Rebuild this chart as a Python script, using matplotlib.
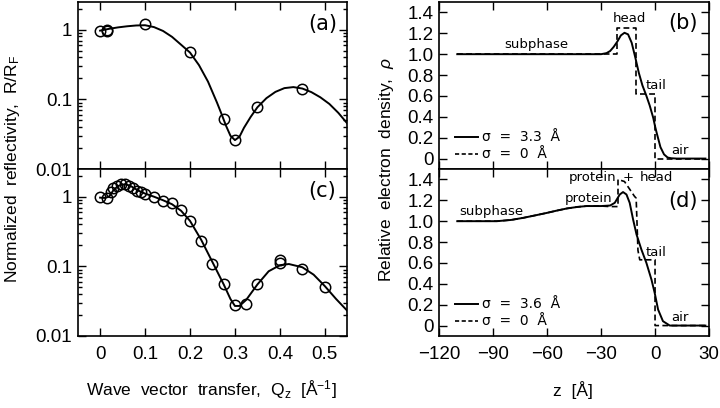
import numpy as np
import matplotlib
matplotlib.use("Agg")
from matplotlib import pyplot as plt
from matplotlib.ticker import FixedLocator, FixedFormatter, LogLocator, NullFormatter

# ---- reflectivity data, panel (a) ----
qa_pts = [0.0, 0.016, 0.016, 0.1, 0.2, 0.275, 0.30, 0.35, 0.45]
ra_pts = [0.95, 0.96, 1.0, 1.21, 0.474, 0.052, 0.026, 0.077, 0.142]
qa_fit = [0.0, 0.02, 0.04, 0.06, 0.08, 0.10, 0.12, 0.14, 0.16, 0.18, 0.20, 0.22,
          0.24, 0.26, 0.27, 0.28, 0.29, 0.30, 0.31, 0.32, 0.335, 0.35, 0.37,
          0.39, 0.41, 0.43, 0.45, 0.47, 0.49, 0.51, 0.53, 0.55]
ra_fit = [0.97, 1.03, 1.08, 1.12, 1.15, 1.16, 1.09, 0.96, 0.79, 0.61, 0.47, 0.31,
          0.18, 0.09, 0.062, 0.042, 0.030, 0.026, 0.029, 0.039, 0.056, 0.077, 0.104,
          0.128, 0.145, 0.150, 0.143, 0.127, 0.107, 0.086, 0.064, 0.045]

# ---- reflectivity data, panel (c) ----
qc_pts = [0.0, 0.016, 0.025, 0.028, 0.037, 0.047, 0.056, 0.065, 0.074, 0.083,
          0.091, 0.10, 0.12, 0.14, 0.16, 0.18, 0.20, 0.225, 0.25, 0.275, 0.30,
          0.325, 0.35, 0.40, 0.40, 0.45, 0.50]
rc_pts = [0.98, 0.95, 1.15, 1.32, 1.44, 1.52, 1.52, 1.41, 1.32, 1.2,
          1.15, 1.10, 1.0, 0.88, 0.80, 0.65, 0.45, 0.228, 0.109, 0.055, 0.0277,
          0.029, 0.055, 0.123, 0.113, 0.091, 0.051]
qc_fit = [0.0, 0.01, 0.02, 0.03, 0.04, 0.05, 0.06, 0.07, 0.08, 0.09, 0.10, 0.12,
          0.14, 0.16, 0.18, 0.20, 0.225, 0.25, 0.275, 0.29, 0.30, 0.31, 0.325,
          0.35, 0.375, 0.40, 0.42, 0.45, 0.475, 0.50, 0.525, 0.55]
rc_fit = [0.97, 0.96, 1.0, 1.25, 1.42, 1.50, 1.49, 1.40, 1.28, 1.18, 1.11, 1.0,
          0.89, 0.78, 0.63, 0.45, 0.24, 0.115, 0.055, 0.034, 0.027, 0.027, 0.033,
          0.055, 0.085, 0.104, 0.108, 0.097, 0.076, 0.052, 0.034, 0.023]

# ---- electron density, panel (b) ----
zb_s = [-110, -40, -30, -27, -25, -23, -21, -19, -17, -15, -13, -11, -9, -7, -5,
        -3, -1, 0, 1, 3, 5, 7, 9, 12, 28]
rb_s = [1.0, 1.0, 1.0, 1.01, 1.03, 1.07, 1.12, 1.18, 1.205, 1.19, 1.11, 0.97, 0.82,
        0.70, 0.61, 0.51, 0.39, 0.31, 0.24, 0.11, 0.04, 0.01, 0.003, 0.0, 0.0]
zb_d = [-110, -21, -21, -10.5, -10.5, 0, 0, 28]
rb_d = [1.0, 1.0, 1.25, 1.25, 0.62, 0.62, 0.0, 0.0]

# ---- electron density, panel (d) ----
zd_s = [-110, -88, -80, -73, -66, -60, -55, -49, -43, -38, -30, -25, -22.4, -19.6,
        -17.8, -15.9, -14.1, -12.2, -10.3, -7.6, -4.8, -2.0, -0.2, 1.7, 4.4, 8.2, 28]
rd_s = [1.0, 1.0, 1.012, 1.033, 1.058, 1.08, 1.10, 1.122, 1.137, 1.145, 1.145, 1.15,
        1.176, 1.256, 1.279, 1.256, 1.176, 1.016, 0.873, 0.729, 0.60, 0.441, 0.313,
        0.153, 0.042, 0.0, 0.0]
zd_d = [-110, -88, -80, -73, -66, -60, -55, -49, -43, -38, -30, -25, -20.6, -20.6,
        -17, -11.5, -10.5, -9.5, -8.5, 0, 0, 28]
rd_d = [1.0, 1.0, 1.012, 1.033, 1.058, 1.08, 1.10, 1.122, 1.137, 1.145, 1.145, 1.14,
        1.14, 1.40, 1.38, 1.24, 1.22, 0.72, 0.63, 0.63, 0.0, 0.0]

q_ticks = [0, 0.1, 0.2, 0.3, 0.4, 0.5]
q_labels = ["0", "0.1", "0.2", "0.3", "0.4", "0.5"]
r_ticks = [0.01, 0.1, 1]
r_labels = ["0.01", "0.1", "1"]
z_ticks = [-120, -90, -60, -30, 0, 30]
rho_ticks = [0, 0.2, 0.4, 0.6, 0.8, 1.0, 1.2, 1.4]
rho_labels = ["0", "0.2", "0.4", "0.6", "0.8", "1.0", "1.2", "1.4"]

plt.rcParams['font.family'] = ['Liberation Sans', 'DejaVu Sans']
plt.rcParams['mathtext.fontset'] = 'custom'
plt.rcParams['mathtext.rm'] = 'Liberation Sans'
plt.rcParams['mathtext.it'] = 'Liberation Sans:italic'

fig = plt.figure(figsize=(7.2, 4.08), dpi=100)
L, R, W = 0.1078, 0.6101, 0.3746
H = 167 / 408.0
ax_a = fig.add_axes([L, 1 - 169 / 408.0, W, H])
ax_c = fig.add_axes([L, 1 - 336 / 408.0, W, H])
ax_b = fig.add_axes([R, 1 - 169 / 408.0, W, H])
ax_d = fig.add_axes([R, 1 - 336 / 408.0, W, H])

tick_fs = 13.5
ann_fs = 9.5


def style(ax):
    ax.tick_params(which='both', direction='in', top=True, right=True,
                   width=1.0, labelsize=tick_fs)
    ax.tick_params(which='major', length=5.5)
    ax.tick_params(which='minor', length=3)
    ax.tick_params(axis='x', pad=7)
    ax.tick_params(axis='y', pad=4)
    for s in ax.spines.values():
        s.set_linewidth(1.2)


for ax, qp, rp, qf, rf, lab in [(ax_a, qa_pts, ra_pts, qa_fit, ra_fit, "(a)"),
                                 (ax_c, qc_pts, rc_pts, qc_fit, rc_fit, "(c)")]:
    ax.plot(qf, rf, color='black', lw=1.4)
    ax.plot(qp, rp, 'o', mfc='none', mec='black', ms=7.5, mew=1.1)
    ax.set_yscale('log')
    ax.set_xlim(-0.05, 0.55)
    ax.set_ylim(0.01, 2.5)
    ax.yaxis.set_major_locator(FixedLocator(r_ticks))
    ax.yaxis.set_major_formatter(FixedFormatter(r_labels))
    ax.yaxis.set_minor_locator(LogLocator(base=10, subs=np.arange(2, 10)))
    ax.yaxis.set_minor_formatter(NullFormatter())
    ax.xaxis.set_major_locator(FixedLocator(q_ticks))
    style(ax)
    ax.text(0.495, 1.2 if lab == "(a)" else 1.22, lab, fontsize=15,
            family='DejaVu Sans', ha='center', va='center')

ax_a.set_xticklabels([])
ax_c.set_xticklabels(q_labels)

for ax, zs, rs, zdash, rdash, lab, sig in [(ax_b, zb_s, rb_s, zb_d, rb_d, "(b)", "3.3"),
                                          (ax_d, zd_s, rd_s, zd_d, rd_d, "(d)", "3.6")]:
    ax.plot(zdash, rdash, color='black', lw=1.2, ls=(0, (3.5, 2.0)))
    ax.plot(zs, rs, color='black', lw=1.4)
    ax.set_xlim(-120, 30)
    ax.set_ylim(-0.1, 1.5)
    ax.xaxis.set_major_locator(FixedLocator(z_ticks))
    ax.yaxis.set_major_locator(FixedLocator(rho_ticks))
    ax.yaxis.set_major_formatter(FixedFormatter(rho_labels))
    style(ax)
    ax.text(15.6, 1.30 if lab == "(b)" else 1.19, lab, fontsize=15,
            family='DejaVu Sans', ha='center', va='center')
    # legend drawn by hand, as in the original
    ax.plot([-111.3, -98.3], [0.207, 0.207], color='black', lw=1.4)
    ax.plot([-111.3, -98.3], [0.045, 0.045], color='black', lw=1.2, ls=(0, (2.5, 1.5)))
    ax.text(-96.4, 0.207, "σ  =  " + sig + "  Å", fontsize=ann_fs + 0.5,
            family='DejaVu Sans', va='center', ha='left')
    ax.text(-96.4, 0.045, "σ  =  0  Å", fontsize=ann_fs + 0.5,
            family='DejaVu Sans', va='center', ha='left')
    ax.text(14, 0.075, "air", fontsize=ann_fs, family='DejaVu Sans',
            ha='center', va='center')
    ax.text(0.3, 0.70, "tail", fontsize=ann_fs, family='DejaVu Sans',
            ha='center', va='center')

ax_b.set_xticklabels([])
ax_d.set_xticklabels(["\u2212120", "\u221290", "\u221260", "\u221230", "0", "30"])

ax_b.text(-66, 1.09, "subphase", fontsize=ann_fs, family='DejaVu Sans',
          ha='center', va='center')
ax_b.text(-14, 1.34, "head", fontsize=ann_fs, family='DejaVu Sans',
          ha='center', va='center')
ax_d.text(-91, 1.09, "subphase", fontsize=ann_fs, family='DejaVu Sans',
          ha='center', va='center')
ax_d.text(-37.2, 1.215, "protein", fontsize=ann_fs, family='DejaVu Sans',
          ha='center', va='center')
ax_d.text(-34.6, 1.42, "protein", fontsize=ann_fs, family='DejaVu Sans',
          ha='center', va='center')
ax_d.text(-15, 1.42, "+", fontsize=ann_fs, family='DejaVu Sans',
          ha='center', va='center')
ax_d.text(0.8, 1.42, "head", fontsize=ann_fs, family='DejaVu Sans',
          ha='center', va='center')

fig.text(0.017, 0.585, "Normalized  reflectivity,  R/R$_\\mathrm{F}$", rotation=90,
         fontsize=12.5, ha='center', va='center')
fig.text(0.5375, 0.585, "Relative  electron  density,  $\\rho$", rotation=90,
         fontsize=12.5, ha='center', va='center')
fig.text(0.293, 0.045, "Wave  vector  transfer,  Q$_\\mathrm{z}$  [Å$^{-1}$]",
         fontsize=12.5, ha='center', va='center')
fig.text(0.796, 0.045, "z  [Å]", fontsize=12.5, ha='center', va='center')

fig.savefig("out.png", dpi=100)
